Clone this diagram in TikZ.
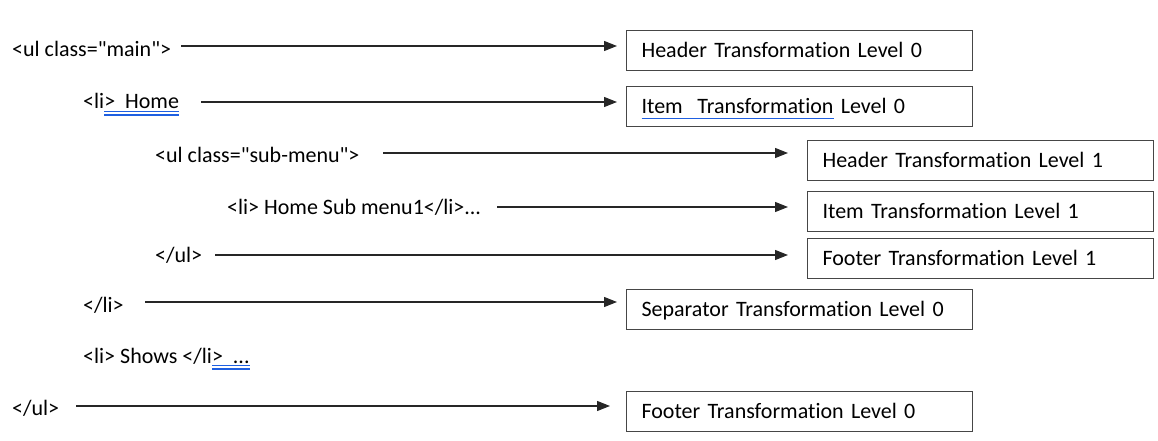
\documentclass[tikz,border=0pt]{standalone}
\usepackage{fontspec}
\setmainfont[Ligatures={CommonOff,TeXOff}]{Carlito}
\usetikzlibrary{arrows.meta,calc}
\definecolor{ulblue}{RGB}{30,95,225}
\definecolor{boxline}{RGB}{70,70,70}
\newcommand\dul[1]{\setbox0\hbox{#1}\rlap{\color{ulblue}\rule[-3.4pt]{\wd0}{1.2pt}}\rlap{\color{ulblue}\rule[-6.6pt]{\wd0}{1.2pt}}\box0\relax}
\newcommand\sul[1]{\setbox0\hbox{#1}\rlap{\color{ulblue}\rule[-5.8pt]{\wd0}{1.1pt}}\box0\relax}
\begin{document}
\begin{tikzpicture}[x=1pt,y=-1pt,
  font=\fontsize{22}{26}\selectfont,
  tbox/.style={draw=boxline, line width=1.1pt, anchor=north west, minimum width=346pt,
    text width=316pt, inner xsep=15pt, inner ysep=9pt, text height=18pt, text depth=4pt, align=left},
  code/.style={anchor=base west, inner sep=0pt},
  arr/.style={draw=black!85, line width=1.1pt, -{Triangle[length=13pt,width=10pt]}}]
\useasboundingbox (0,0) rectangle (1158,441);
% boxes
\node[tbox] (h0) at (626,30) {Header Transformation Level 0};
\node[tbox] (i0) at (626,86) {\sul{Item\ \ Transformation} Level 0};
\node[tbox] (h1) at (807,140) {Header Transformation Level 1};
\node[tbox] (i1) at (807,191) {Item Transformation Level 1};
\node[tbox] (f1) at (807,238) {Footer Transformation Level 1};
\node[tbox] (s0) at (626,289) {Separator Transformation Level 0};
\node[tbox] (f0) at (626,391) {Footer Transformation Level 0};
% code lines
\node[code] (l1) at (12,57) {<ul class="main">};
\node[code] (l2) at (83,109) {<li\dul{>\ \ Home}};
\node[code] (l3) at (155,162) {<ul class="sub-menu">};
\node[code] (l4) at (227,214) {<li> Home Sub menu1</li>...};
\node[code] (l5) at (155,262) {</ul>};
\node[code] (l6) at (83,312) {</li>};
\node[code] (l7) at (83,363) {<li> Shows </li\dul{>\ \ ...}};
\node[code] (l8) at (12,415) {</ul>};
% arrow start points
\coordinate (a1) at (181,46);
\coordinate (a2) at (201,102);
\coordinate (a3) at (383,153);
\coordinate (a4) at (497,207);
\coordinate (a5) at (215,255);
\coordinate (a6) at (145,302);
\coordinate (a7) at (76,406);
\draw[arr, shorten >=9pt] (a1) -- (a1 -| h0.west);
\draw[arr, shorten >=9pt] (a2) -- (a2 -| i0.west);
\draw[arr, shorten >=19pt] (a3) -- (a3 -| h1.west);
\draw[arr, shorten >=19pt] (a4) -- (a4 -| i1.west);
\draw[arr, shorten >=19pt] (a5) -- (a5 -| f1.west);
\draw[arr, shorten >=9pt] (a6) -- (a6 -| s0.west);
\draw[arr, shorten >=16pt] (a7) -- (a7 -| f0.west);
\end{tikzpicture}
\end{document}
